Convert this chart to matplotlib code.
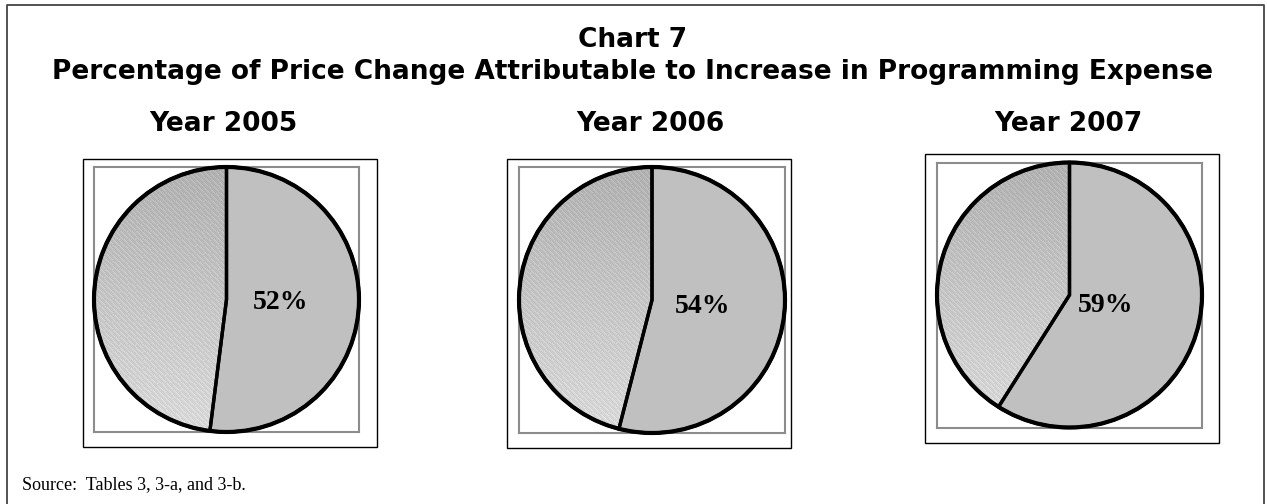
import numpy as np
import matplotlib
matplotlib.use('Agg')
import matplotlib.pyplot as plt
from matplotlib.lines import Line2D
from matplotlib.patches import Rectangle, Circle

# Data
years = ['Year 2005', 'Year 2006', 'Year 2007']
prog_pct = [52, 54, 59]                  # share attributable to programming expense
title_lines = ['Chart 7',
               'Percentage of Price Change Attributable to Increase in Programming Expense']
source_note = 'Source:  Tables 3, 3-a, and 3-b.'

W, H = 1267, 504
fig = plt.figure(figsize=(W / 100, H / 100), dpi=100)


def px_axes(x0, y0, x1, y1):
    # pixel box (top-left origin) -> figure axes
    return fig.add_axes([x0 / W, 1 - y1 / H, (x1 - x0) / W, (y1 - y0) / H])


def px_rect(x0, y0, x1, y1, **kw):
    r = Rectangle((x0 / W, 1 - y1 / H), (x1 - x0) / W, (y1 - y0) / H,
                  transform=fig.transFigure, fill=False, **kw)
    fig.add_artist(r)


# outer page frame (open at the bottom)
fig.add_artist(Line2D([7 / W, 7 / W, 1264 / W, 1264 / W], [0, 1 - 5 / H, 1 - 5 / H, 0],
                      transform=fig.transFigure, color='#444444', lw=1.3))

# titles
fig.text(633 / W, 1 - 40 / H, title_lines[0], ha='center', va='center',
         fontsize=19, fontweight='bold', family='DejaVu Sans')
fig.text(633 / W, 1 - 72 / H, title_lines[1], ha='center', va='center',
         fontsize=19, fontweight='bold', family='DejaVu Sans')

# layout of the three panels (pixels): black frame, grey plot box, title x
frames = [(83, 159, 377, 447), (507, 159, 791, 448), (925, 154, 1219, 443)]
boxes = [(94, 166, 359, 433), (519, 167, 785, 433), (937, 162, 1202, 428)]
title_x = [223, 650, 1068]
label_dist = [0.41, 0.38, 0.28]

# hatched, shaded texture for the small slice
n = 300
ii, jj = np.mgrid[0:n, 0:n]
shade = 0.70 + 0.16 * ii / n
stripes = 0.05 * (((ii - jj) // 2) % 3 == 0)
checker = 0.04 * ((ii + jj) % 2)
tex = np.clip(shade + stripes - checker, 0, 1)

for k in range(3):
    px_rect(*frames[k], edgecolor='black', lw=1.0)
    fig.text(title_x[k] / W, 1 - 124 / H, years[k], ha='center', va='center',
             fontsize=19, fontweight='bold', family='DejaVu Sans')

    ax = px_axes(*boxes[k])
    ax.set_xticks([])
    ax.set_yticks([])
    for s in ax.spines.values():
        s.set_edgecolor('#8c8c8c')
        s.set_linewidth(1.5)

    vals = [prog_pct[k], 100 - prog_pct[k]]
    wedges, _ = ax.pie(vals, startangle=90, counterclock=False, radius=1.0,
                       colors=['#c0c0c0', 'none'],
                       wedgeprops=dict(edgecolor='black', linewidth=2.4),
                       frame=True)
    ax.set_xlim(-1, 1)
    ax.set_ylim(-1, 1)
    ax.set_aspect('auto')

    im = ax.imshow(tex, cmap='gray', vmin=0, vmax=1, extent=[-1, 1, -1, 1],
                   interpolation='nearest', zorder=0.5)
    im.set_clip_path(wedges[1])

    ax.add_patch(Circle((0, 0), 1.0, fill=False, edgecolor='black', lw=3.0,
                        clip_on=False, zorder=5))
    for w in wedges:
        w.set_clip_on(False)

    # percentage label on the programming slice
    mid = np.deg2rad(90 - 3.6 * prog_pct[k] / 2)
    d = label_dist[k]
    ax.text(d * np.cos(mid), d * np.sin(mid), '{}%'.format(prog_pct[k]),
            ha='center', va='center', fontsize=20, fontweight='bold',
            family='Liberation Serif', zorder=6)

fig.text(22 / W, 1 - 485 / H, source_note, ha='left', va='center',
         fontsize=13, family='Liberation Serif')

fig.savefig('out.png', dpi=100, facecolor='white')
